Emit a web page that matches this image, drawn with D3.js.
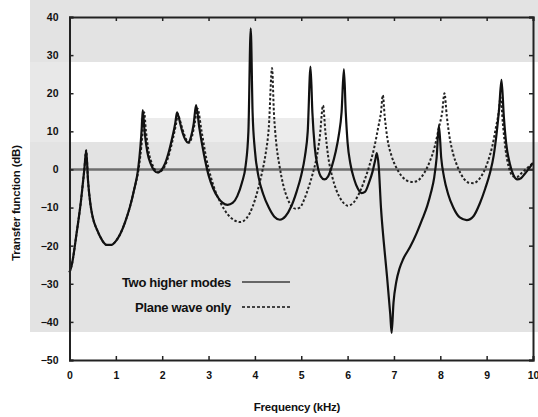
<!DOCTYPE html>
<html><head><meta charset="utf-8">
<script src="https://cdn.jsdelivr.net/npm/d3@7"></script>
<style>
html,body{margin:0;padding:0;background:#fff;}
svg{display:block;}
text{font-family:"Liberation Sans",Arial,sans-serif;font-weight:bold;fill:#111;}
</style></head>
<body>
<script>
// ---- data (frequency kHz, transfer function dB) ----
const xTicks = [0,1,2,3,4,5,6,7,8,9,10];
const yTicks = [40,30,20,10,0,-10,-20,-30,-40,-50];
const seriesNames = ["Two higher modes","Plane wave only"];
const twoModesFreq = [0,0.05,0.15,0.25,0.32,0.36,0.40,0.45,0.5,0.6,0.7,0.8,0.9,1.0,1.1,1.2,1.3,1.4,1.48,1.53,1.56,1.58,1.62,1.68,1.75,1.83,1.9,1.98,2.06,2.14,2.22,2.28,2.32,2.36,2.42,2.5,2.56,2.62,2.68,2.73,2.8,2.9,3.0,3.1,3.2,3.3,3.41,3.52,3.62,3.72,3.8,3.86,3.91,3.95,4.0,4.08,4.18,4.3,4.42,4.54,4.66,4.78,4.9,5.0,5.08,5.14,5.2,5.24,5.29,5.35,5.42,5.5,5.58,5.66,5.74,5.81,5.87,5.92,5.96,6.0,6.06,6.14,6.22,6.3,6.38,6.46,6.54,6.6,6.63,6.67,6.72,6.78,6.85,6.92,6.95,6.99,7.05,7.12,7.2,7.35,7.49,7.62,7.72,7.8,7.87,7.92,7.97,8.02,8.08,8.17,8.28,8.42,8.57,8.72,8.85,8.97,9.07,9.15,9.22,9.27,9.32,9.37,9.42,9.5,9.58,9.66,9.74,9.82,9.9,10.0];
const twoModesDb   = [-27,-25,-17,-8,0,5,-3,-9,-12.5,-16,-18.5,-19.8,-19.8,-18.8,-16.8,-13.8,-10,-5,0,6,11,15.6,10,4.5,1.5,-0.3,-0.8,-0.2,1.5,4.5,8.5,12,15,13.5,10.5,7.8,7,8.5,12,16.9,11,4,-1.5,-5,-7.3,-8.7,-9.3,-8.8,-7,-3.5,1,10,37,15,5,-2,-6.5,-10,-12.4,-13.2,-12.3,-9.8,-5.8,-1.5,3.5,10,27,15,6,1,-1.8,-2.6,-1.8,0.8,4.5,9,15,26.3,15,7,1.5,-2.5,-5,-6.2,-5.8,-3.5,-0.5,2.7,4.3,1,-10,-19,-28,-38,-42.9,-35,-29.5,-26,-23.5,-20.3,-16.7,-12.8,-9.5,-6,-2,3,11.6,3,-2,-6.5,-10,-12.6,-13.3,-12.2,-9,-5,-1,3.5,10,16,23.5,14,7,1.5,-1.5,-2.6,-2.3,-1.2,0,1.7];
const planeFreq = [0,0.05,0.15,0.25,0.32,0.36,0.40,0.45,0.5,0.6,0.7,0.8,0.9,1.0,1.1,1.2,1.3,1.4,1.49,1.55,1.58,1.61,1.65,1.71,1.78,1.86,1.93,2.0,2.08,2.16,2.24,2.3,2.34,2.38,2.44,2.52,2.58,2.64,2.7,2.76,2.85,2.95,3.05,3.15,3.27,3.4,3.54,3.68,3.82,3.95,4.06,4.15,4.23,4.3,4.37,4.41,4.46,4.53,4.61,4.7,4.8,4.88,4.97,5.06,5.15,5.25,5.33,5.4,5.47,5.52,5.58,5.66,5.76,5.88,6.0,6.12,6.24,6.36,6.47,6.57,6.66,6.72,6.76,6.8,6.86,6.95,7.05,7.17,7.29,7.41,7.53,7.65,7.77,7.88,7.97,8.04,8.09,8.14,8.2,8.28,8.38,8.5,8.62,8.72,8.82,8.93,9.03,9.12,9.2,9.26,9.3,9.35,9.41,9.48,9.57,9.65,9.75,9.87,10.0];
const planeDb   = [-27,-25,-17,-8,0,5,-3,-9,-12.5,-16,-18.5,-19.8,-19.8,-18.8,-16.8,-13.8,-10,-5,0,6,10,15,10,4.5,1.5,-0.3,-0.8,-0.2,1.5,4.5,8.5,12,14.5,13,10.5,7.8,7,8.5,12,16,10,3,-2,-5.8,-9,-11.6,-13.2,-13.8,-12.8,-9.8,-5.5,-1,4,11,26.6,15,7,1,-4,-7.5,-9.8,-10.3,-10,-8,-5,-1,3,8.5,16.8,10,3.5,-1.5,-5.5,-8.3,-9.5,-8.8,-6.5,-3,1,5.5,11,15,19.5,14,8,3.5,0.5,-1.8,-3,-3.3,-2.8,-1,2,6,11,15,20,14,8.5,4,0.5,-2.3,-3.5,-3.6,-2.8,-0.8,2.2,6,11,15,19,12,5,0.5,-1.8,-2,-1,0.3,1.7];

const W = 538, H = 417;
const m = {left:69.5, right:5, top:17, bottom:57};
const svg = d3.select("body").append("svg").attr("width",W).attr("height",H);

// scanned-paper background shading
const bg = svg.append("g");
bg.append("rect").attr("x",30).attr("y",0).attr("width",508).attr("height",62).attr("fill","#e3e3e3");
bg.append("rect").attr("x",30).attr("y",62).attr("width",40).attr("height",80).attr("fill","#e8e8e8");
bg.append("rect").attr("x",30).attr("y",142).attr("width",508).attr("height",190).attr("fill","#e3e3e3");
bg.append("rect").attr("x",140).attr("y",118).attr("width",190).attr("height",24).attr("fill","#ececec");

const x = d3.scaleLinear().domain([0,10]).range([m.left, W-m.right]);
const y = d3.scaleLinear().domain([-50,40]).range([H-m.bottom, m.top]);

// zero line
svg.append("line").attr("x1",x(0)).attr("x2",x(10)).attr("y1",y(0)).attr("y2",y(0))
  .attr("stroke","#6e6e6e").attr("stroke-width",2.5);

const line = d3.line().x(d=>x(d[0])).y(d=>y(d[1])).curve(d3.curveMonotoneX);
const solid = twoModesFreq.map((f,i)=>[f,twoModesDb[i]]);
const dashed = planeFreq.map((f,i)=>[f,planeDb[i]]);

svg.append("path").datum(dashed).attr("d",line).attr("fill","none")
  .attr("stroke","#222").attr("stroke-width",2).attr("stroke-dasharray","2.5,2");
svg.append("path").datum(solid).attr("d",line).attr("fill","none")
  .attr("stroke","#111").attr("stroke-width",2.2);

// axes (ticks inward, mirrored)
const tickLen = 4;
const axB = svg.append("g").attr("transform",`translate(0,${y(-50)})`)
  .call(d3.axisBottom(x).tickValues(xTicks).tickSize(-tickLen).tickPadding(12).tickFormat(d3.format("d")));
const axT = svg.append("g").attr("transform",`translate(0,${y(40)})`)
  .call(d3.axisTop(x).tickValues(xTicks).tickSize(-tickLen).tickFormat(""));
const axL = svg.append("g").attr("transform",`translate(${x(0)},0)`)
  .call(d3.axisLeft(y).tickValues(yTicks).tickSize(-tickLen).tickPadding(11).tickFormat(d3.format("d")));
const axR = svg.append("g").attr("transform",`translate(${x(10)},0)`)
  .call(d3.axisRight(y).tickValues(yTicks).tickSize(-tickLen).tickFormat(""));
[axB,axT,axL,axR].forEach(a=>{
  a.select(".domain").attr("stroke","#222").attr("stroke-width",2);
  a.selectAll(".tick line").attr("stroke","#222").attr("stroke-width",1.5);
  a.selectAll("text").attr("font-size",10.5).attr("font-weight","bold")
    .attr("font-family","'Liberation Sans',Arial,sans-serif").attr("fill","#111");
});
axB.selectAll("text").attr("dy","0.71em");

// axis titles
svg.append("text").attr("x",297).attr("y",411).attr("text-anchor","middle")
  .attr("font-size",11.5).attr("letter-spacing","-0.2").text("Frequency (kHz)");
svg.append("text").attr("transform",`translate(20,${203}) rotate(-90)`).attr("text-anchor","middle")
  .attr("font-size",11.5).attr("letter-spacing","-0.2").text("Transfer function (dB)");

// legend
const lg = svg.append("g");
seriesNames.forEach((name,i)=>{
  const ly = 282 + i*25;
  lg.append("text").attr("x",231).attr("y",ly).attr("dy","0.35em").attr("text-anchor","end")
    .attr("font-size",13).attr("letter-spacing","-0.3").text(name);
  lg.append("line").attr("x1",242).attr("x2",290).attr("y1",ly).attr("y2",ly)
    .attr("stroke",i===0?"#666":"#444").attr("stroke-width",2)
    .attr("stroke-dasharray",i===0?null:"3,2");
});
</script>
</body></html>
